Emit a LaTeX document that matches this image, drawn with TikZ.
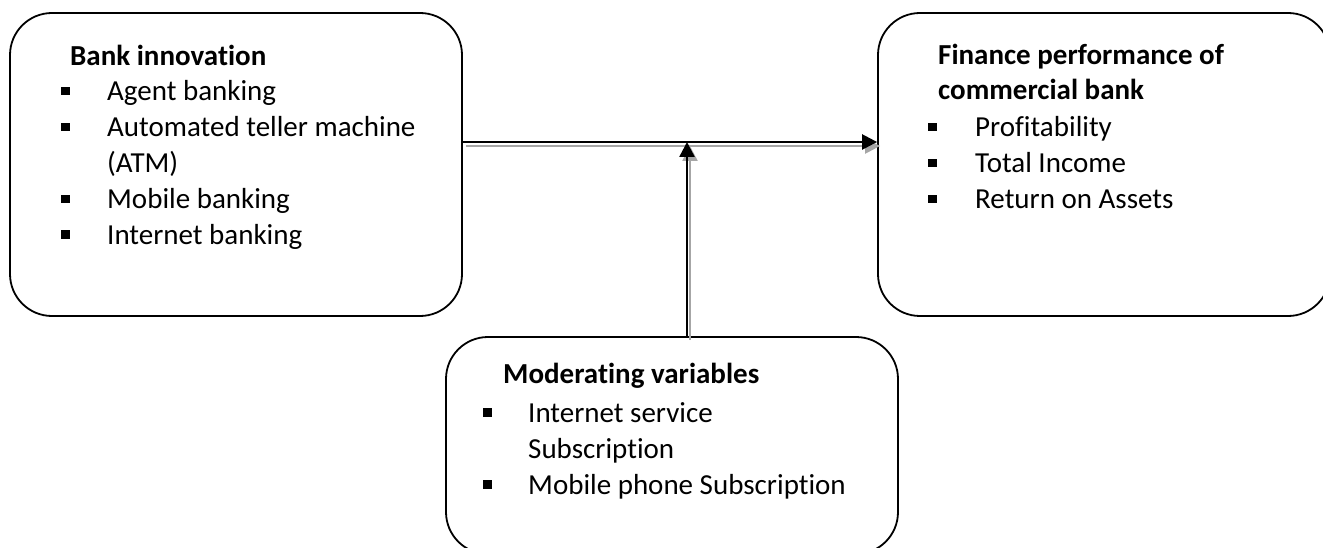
\documentclass[tikz,border=0pt]{standalone}
\usepackage{fontspec}
\setmainfont{Carlito}[Ligatures=NoCommon]
\usetikzlibrary{arrows.meta}
\definecolor{shadowgray}{HTML}{A6A6A6}
\newcommand{\sqbul}[1]{\makebox[#1][l]{\rule[5.5pt]{8.5pt}{8.5pt}}}
\begin{document}
\begin{tikzpicture}[x=1pt,y=-1pt,
 box/.style={draw, line width=1.8pt, rounded corners=42pt, minimum width=452pt, minimum height=303pt, inner sep=0pt},
 txt/.style={anchor=base west, inner sep=0pt, font=\fontsize{29}{36}\selectfont},
 ttl/.style={anchor=base west, inner sep=0pt, font=\fontsize{29}{36}\selectfont\bfseries},
 arr/.style={line width=2.4pt, -{Triangle[length=15pt,width=15pt]}},
 shd/.style={line width=2.4pt, draw=shadowgray, fill=shadowgray, -{Triangle[length=15pt,width=15pt]}}
]
\useasboundingbox (0,0) rectangle (1323,548);
\clip (0,0) rectangle (1323,548);
\node[box] (bank) at (236,164.5) {};
\node[box] (perf) at (1104,164.5) {};
\node[box, minimum height=217pt] (mod) at (672,445.5) {};
\coordinate (j) at (687,142);
% shadows
\draw[shd] ([shift={(3pt,-4pt)}]bank.east |- j) -- ([shift={(3pt,-4pt)}]perf.west |- j);
\draw[shd] ([shift={(3pt,-4pt)}]mod.north -| j) -- ([shift={(3pt,-4pt)}]j);
% arrows
\draw[arr] (bank.east |- j) -- (perf.west |- j);
\draw[arr] (mod.north -| j) -- (j);
% left box text
\node[ttl] (t1) at (70,66) {Bank innovation};
\node[txt] (a1) at (61,101) {\sqbul{46pt}Agent banking};
\node[txt] (a2) at (61,137) {\sqbul{46pt}Automated teller machine};
\node[txt] (a3) at (107,173) {(ATM)};
\node[txt] (a4) at (61,209) {\sqbul{46pt}Mobile banking};
\node[txt] (a5) at (61,244) {\sqbul{46pt}Internet banking};
% right box text
\node[ttl] (t2) at (938,65) {Finance performance of};
\node[ttl] (t3) at (938,100) {commercial bank};
\node[txt] (b1) at (928,137) {\sqbul{47pt}Profitability};
\node[txt] (b2) at (928,173) {\sqbul{47pt}Total Income};
\node[txt] (b3) at (928,209) {\sqbul{47pt}Return on Assets};
% bottom box text
\node[ttl] (t4) at (503,383) {Moderating variables};
\node[txt] (c1) at (483,422) {\sqbul{45pt}Internet service};
\node[txt] (c2) at (528,458) {Subscription};
\node[txt] (c3) at (483,494) {\sqbul{45pt}Mobile phone Subscription};
\end{tikzpicture}
\end{document}
